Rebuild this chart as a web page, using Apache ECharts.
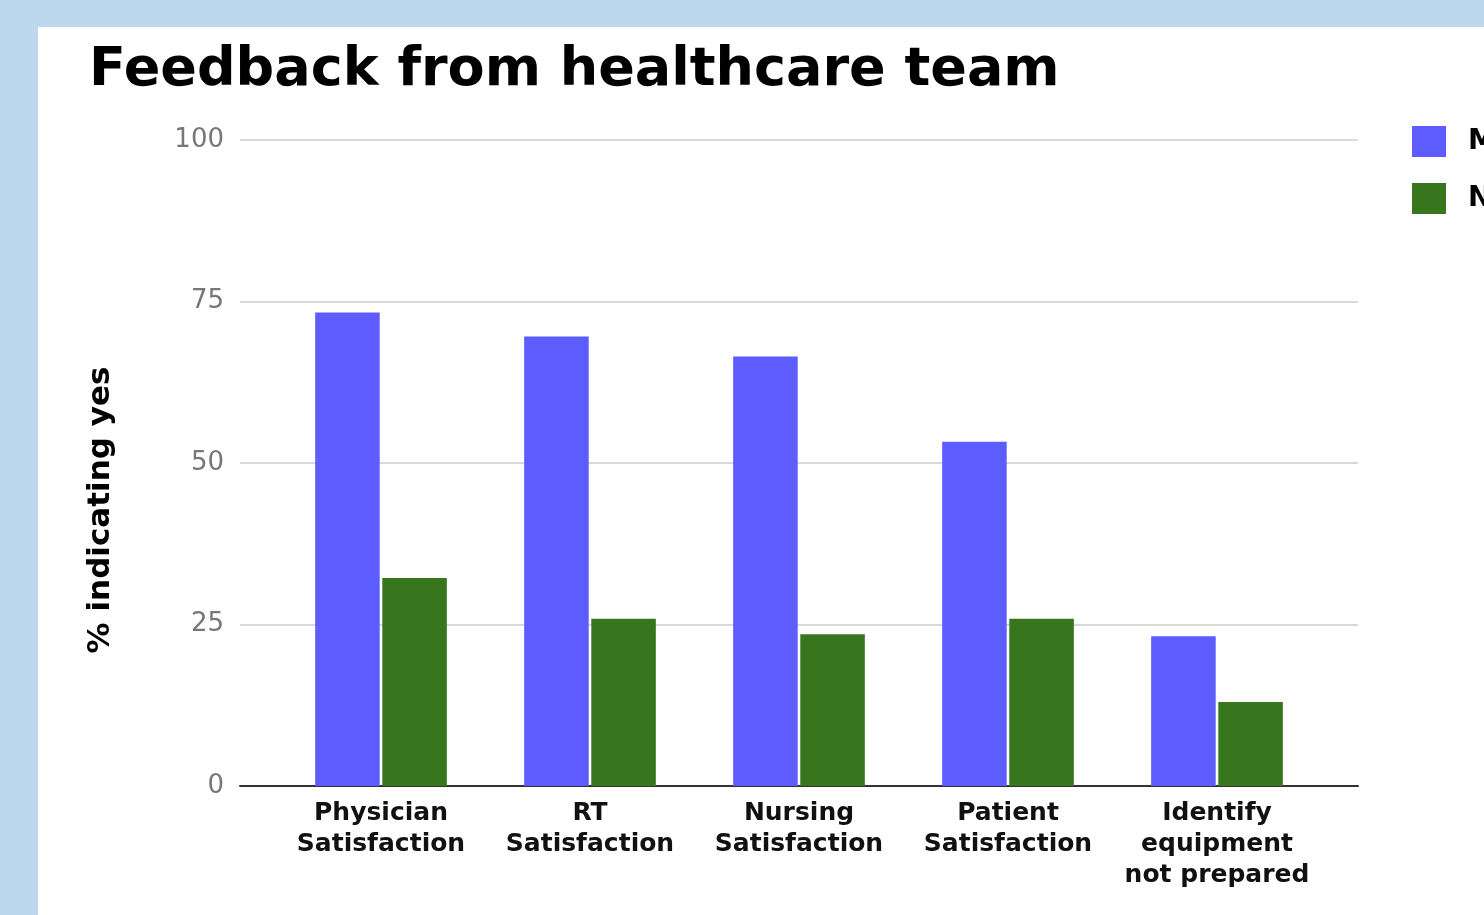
<!DOCTYPE html>
<html>
<head>
<meta charset="utf-8">
<script src="https://cdn.jsdelivr.net/npm/echarts@6/dist/echarts.min.js"></script>
<style>
  html, body { margin: 0; padding: 0; width: 1484px; height: 915px; overflow: hidden; background: #bdd7ee; }
  #chart { position: absolute; left: 38px; top: 27px; width: 1446px; height: 888px; background: #ffffff; }
</style>
</head>
<body>
<div id="chart"></div>
<script>
const titleText = 'Feedback from healthcare team';
const categories = ['Physician\nSatisfaction', 'RT\nSatisfaction', 'Nursing\nSatisfaction', 'Patient\nSatisfaction', 'Identify\nequipment\nnot prepared'];
const seriesNames = ['Mock code', 'No mock code'];
const seriesA = [73.3, 69.6, 66.5, 53.3, 23.2];
const seriesB = [32.2, 25.9, 23.5, 25.9, 13.0];
const yTicks = { min: 0, max: 100, interval: 25 };
const yName = '% indicating yes';

const font = 'DejaVu Sans';
const chart = echarts.init(document.getElementById('chart'), null, { renderer: 'canvas' });
chart.setOption({
  animation: false,
  backgroundColor: '#ffffff',
  title: {
    text: titleText, left: 51, top: 17, padding: 0,
    textStyle: { fontFamily: font, fontWeight: 'bold', fontSize: 54, color: '#000000' }
  },
  legend: {
    orient: 'vertical', left: 1374, top: 99, padding: 0,
    itemWidth: 34, itemHeight: 31, itemGap: 26, icon: 'rect',
    textStyle: { fontFamily: font, fontWeight: 'bold', fontSize: 28, color: '#000000', padding: [0, 0, 0, 17] },
    data: seriesNames
  },
  grid: [
    { left: 202, top: 113, width: 1118, height: 646 },
    { left: 238.5, top: 113, width: 1045, height: 646 }
  ],
  xAxis: [
    { type: 'value', gridIndex: 0, min: 0, max: 1, axisLabel: { show: false }, axisTick: { show: false },
      splitLine: { show: false }, axisLine: { show: true, lineStyle: { color: '#333333', width: 2 } } },
    { type: 'category', gridIndex: 1, data: categories,
      axisLine: { show: false }, axisTick: { show: false },
      axisLabel: { interval: 0, margin: 12, fontFamily: font, fontWeight: 'bold', fontSize: 25, lineHeight: 31, color: '#111111' } }
  ],
  yAxis: [
    { type: 'value', gridIndex: 0, min: yTicks.min, max: yTicks.max, interval: yTicks.interval,
      name: yName, nameLocation: 'middle', nameGap: 124,
      nameTextStyle: { fontFamily: font, fontWeight: 'bold', fontSize: 31, color: '#000000', padding: [0, 94, 0, 0] },
      axisLine: { show: false }, axisTick: { show: false },
      axisLabel: { margin: 16, fontFamily: font, fontSize: 26, color: '#777777' },
      splitLine: { lineStyle: { color: '#d9d9d9', width: 2 } } },
    { type: 'value', gridIndex: 1, min: yTicks.min, max: yTicks.max, interval: yTicks.interval,
      axisLine: { show: false }, axisTick: { show: false }, axisLabel: { show: false }, splitLine: { show: false } }
  ],
  series: [
    { name: seriesNames[0], type: 'bar', xAxisIndex: 1, yAxisIndex: 1, data: seriesA,
      itemStyle: { color: '#5c5cff' }, barCategoryGap: '37%', barGap: '4%' },
    { name: seriesNames[1], type: 'bar', xAxisIndex: 1, yAxisIndex: 1, data: seriesB,
      itemStyle: { color: '#38761d' }, barCategoryGap: '37%', barGap: '4%' }
  ]
});
</script>
</body>
</html>
